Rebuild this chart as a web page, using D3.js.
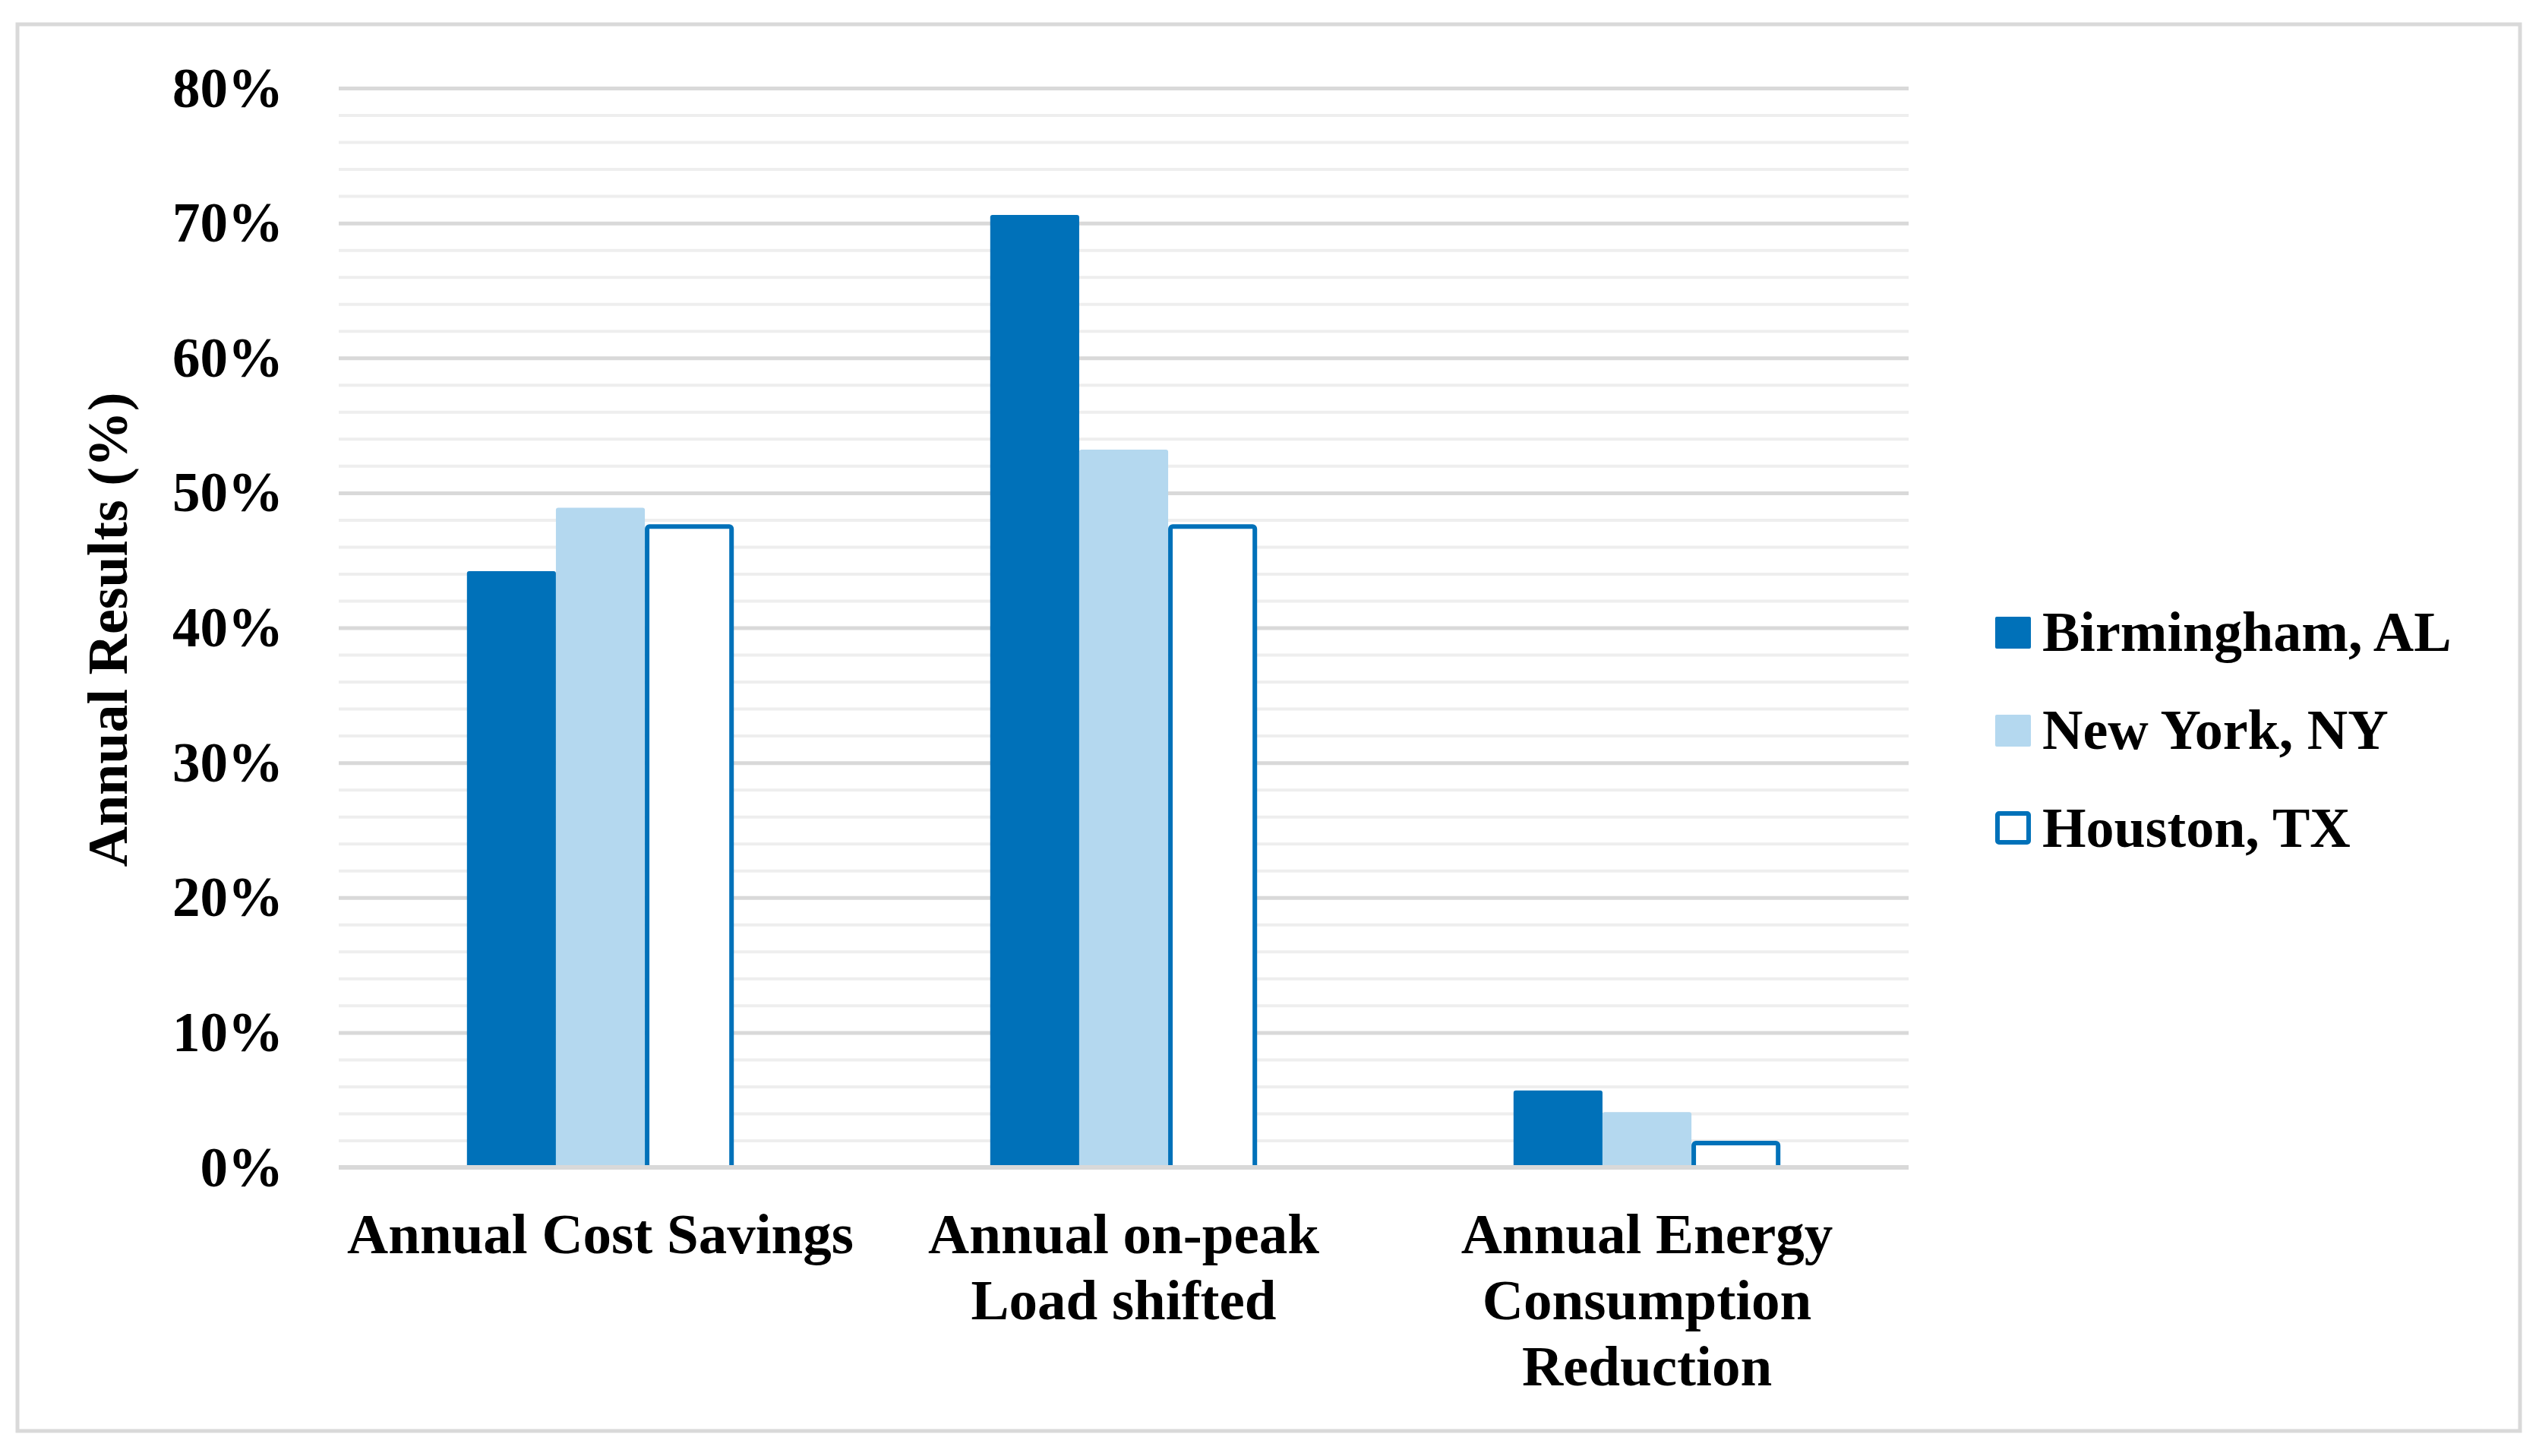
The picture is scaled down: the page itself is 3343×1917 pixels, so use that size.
<!DOCTYPE html>
<html>
<head>
<meta charset="utf-8">
<script src="https://cdnjs.cloudflare.com/ajax/libs/d3/7.8.5/d3.min.js"></script>
<style>
  body { margin: 0; background: #fff; }
  text { font-family: "Liberation Serif", "Times New Roman", serif; font-weight: bold; fill: #000; }
</style>
</head>
<body>
<div id="chart"></div>
<script>
// chart data
var categories = ["Annual Cost Savings", "Annual on-peak Load shifted", "Annual Energy Consumption Reduction"];
var categoryLines = [["Annual Cost Savings"], ["Annual on-peak", "Load shifted"], ["Annual Energy", "Consumption", "Reduction"]];
var seriesNames = ["Birmingham, AL", "New York, NY", "Houston, TX"];
var birmingham = [44.2, 70.6, 5.7];
var newYork = [48.9, 53.2, 4.1];
var houston = [47.5, 47.5, 1.8];
var yTicks = [0, 10, 20, 30, 40, 50, 60, 70, 80];
var yMinorTicks = [2, 4, 6, 8, 12, 14, 16, 18, 22, 24, 26, 28, 32, 34, 36, 38, 42, 44, 46, 48, 52, 54, 56, 58, 62, 64, 66, 68, 72, 74, 76, 78];

var blue = "#0071b9";
var lightBlue = "#b4d8ef";

var svgWidth = 3343;
var svgHeight = 1917;

var margin = {
    top: 116,
    right: 830,
    bottom: 380,
    left: 446
};

var width = svgWidth - margin.left - margin.right;
var height = svgHeight - margin.top - margin.bottom;

var svg = d3.select("#chart")
    .append("svg")
    .attr("width", svgWidth)
    .attr("height", svgHeight);

// outer frame
svg.append("rect")
    .attr("x", 23)
    .attr("y", 32)
    .attr("width", 3295)
    .attr("height", 1852)
    .attr("fill", "#fff")
    .attr("stroke", "#d9d9d9")
    .attr("stroke-width", 5);

var chartGroup = svg.append("g")
    .attr("transform", `translate(${margin.left}, ${margin.top})`);

// scales
var x0 = d3.scaleBand()
    .domain(categories)
    .range([0, width])
    .paddingInner(0.49)
    .paddingOuter(0.245);

var x1 = d3.scaleBand()
    .domain(seriesNames)
    .range([0, x0.bandwidth()]);

var yScale = d3.scaleLinear()
    .domain([0, 80])
    .range([height, 0]);

// minor gridlines
chartGroup.append("g")
    .attr("class", "minor-grid")
    .call(d3.axisLeft(yScale).tickValues(yMinorTicks).tickSize(-width).tickFormat(""))
    .call(g => g.select(".domain").remove())
    .selectAll("line")
    .attr("stroke", "#eeeeee")
    .attr("stroke-width", 4);

// major gridlines
chartGroup.append("g")
    .attr("class", "major-grid")
    .call(d3.axisLeft(yScale).tickValues(yTicks).tickSize(-width).tickFormat(""))
    .call(g => g.select(".domain").remove())
    .selectAll("line")
    .attr("stroke", "#d9d9d9")
    .attr("stroke-width", 5);

// y axis labels
chartGroup.append("g")
    .call(d3.axisLeft(yScale).tickValues(yTicks).tickSize(0).tickPadding(73).tickFormat(d => d + "%"))
    .call(g => g.select(".domain").remove())
    .selectAll("text")
    .attr("dy", "0.33em")
    .style("font-size", "73px")
    .style("font-family", "'Liberation Serif', serif")
    .style("font-weight", "bold");

// bars
var rows = categories.map(function(c, i) {
    return { cat: c, values: [birmingham[i], newYork[i], houston[i]] };
});

var groups = chartGroup.selectAll(".cat")
    .data(rows)
    .enter()
    .append("g")
    .attr("class", "cat")
    .attr("transform", d => `translate(${x0(d.cat)}, 0)`);

groups.selectAll("rect")
    .data(d => d.values.map((v, j) => ({ name: seriesNames[j], value: v, j: j })))
    .enter()
    .append("rect")
    .attr("x", d => x1(d.name) + (d.j === 2 ? 3 : 0))
    .attr("y", d => yScale(d.value))
    .attr("width", d => x1.bandwidth() - (d.j === 2 ? 6 : 0))
    .attr("height", d => height - yScale(d.value))
    .attr("rx", 3)
    .attr("fill", d => d.j === 0 ? blue : d.j === 1 ? lightBlue : "#fff")
    .attr("stroke", d => d.j === 2 ? blue : "none")
    .attr("stroke-width", 6);

// baseline at 0%
chartGroup.append("line")
    .attr("x1", 0)
    .attr("x2", width)
    .attr("y1", yScale(0))
    .attr("y2", yScale(0))
    .attr("stroke", "#d9d9d9")
    .attr("stroke-width", 6);

// category axis with wrapped labels
var xAxisG = chartGroup.append("g")
    .attr("transform", `translate(0, ${height})`)
    .call(d3.axisBottom(x0).tickSize(0).tickFormat(""));
xAxisG.select(".domain").remove();

xAxisG.selectAll(".tick").each(function(d, i) {
    var t = d3.select(this).append("text")
        .attr("y", 113)
        .attr("text-anchor", "middle")
        .style("font-size", "75px");
    categoryLines[i].forEach(function(line, k) {
        t.append("tspan")
            .attr("x", 0)
            .attr("dy", k === 0 ? 0 : 87)
            .text(line);
    });
});

// y axis title
svg.append("text")
    .attr("transform", "translate(167, 829) rotate(-90)")
    .attr("text-anchor", "middle")
    .style("font-size", "74px")
    .text("Annual Results (%)");

// legend
var legend = svg.append("g")
    .attr("transform", "translate(2627, 0)");

var legendItems = legend.selectAll(".legend-item")
    .data(seriesNames)
    .enter()
    .append("g")
    .attr("class", "legend-item")
    .attr("transform", (d, i) => `translate(0, ${857 + i * 129})`);

legendItems.append("rect")
    .attr("x", (d, i) => i === 2 ? 3 : 0)
    .attr("y", (d, i) => i === 2 ? -44 : -45)
    .attr("width", (d, i) => i === 2 ? 41 : 47)
    .attr("height", (d, i) => i === 2 ? 38 : 42)
    .attr("rx", 2)
    .attr("fill", (d, i) => i === 0 ? blue : i === 1 ? lightBlue : "#fff")
    .attr("stroke", (d, i) => i === 2 ? blue : "none")
    .attr("stroke-width", 6);

legendItems.append("text")
    .attr("x", 62)
    .attr("y", 0)
    .style("font-size", "74px")
    .text(d => d);
</script>
</body>
</html>
